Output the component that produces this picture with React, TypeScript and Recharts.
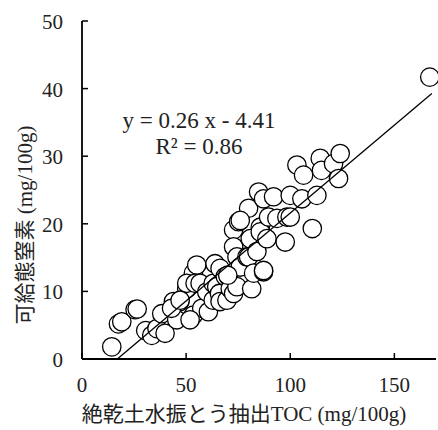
import { ScatterChart, Scatter, XAxis, YAxis } from 'recharts';

// TOC extracted by shaking air-dried soil in water (mg/100g)
const tocValues = [
  14.3, 17.5, 19.1, 25.5, 26.5, 30.6, 33.5, 36, 38.3, 39.9, 43.9, 45.5, 47, 43,
  50.3, 52, 53.5, 55.1, 50.3, 53.5, 54.3, 56.7, 57.5, 59.9, 60.7, 63, 63, 63.9,
  64.7, 66.3, 66, 66.3, 68.8, 69.6, 70.3, 71.2, 72.8, 74.4, 72.8, 75.2, 72.8,
  74.4, 76, 79.2, 80, 80, 80.8, 81.5, 82.4, 84, 84.8, 87.2, 85.6, 85.6, 88.8,
  87.2, 87.2, 89.6, 92, 93.6, 97.6, 98.4, 100, 100, 103.2, 106.4, 105.6, 112.8,
  110.6, 114.4, 115, 120.8, 124, 123.2, 167, 76, 70, 51.9, 47.1,
];
// available nitrogen (mg/100g)
const nitrogenValues = [
  1.8, 5.2, 5.5, 7.3, 7.4, 4.2, 3.5, 4.5, 6.7, 3.8, 8.5, 5.8, 8.5, 7.5,
  10.4, 11.4, 12.7, 13.9, 11.2, 6.5, 11.2, 11.2, 7.5, 9.9, 7.0, 8.7, 11.2, 14.1,
  10.7, 13.4, 9.7, 8.5, 12.2, 8.7, 12.2, 10.4, 9.7, 10.7, 19.1, 20.3, 16.6,
  15.1, 13.6, 15.1, 15.1, 22.3, 17.8, 10.4, 12.7, 15.9, 24.7, 23.7, 19.5, 18.8, 17.8,
  12.9, 13.1, 21.0, 24.0, 20.8, 17.3, 21.0, 21.0, 24.2, 28.7, 27.2, 23.7, 24.2,
  19.3, 29.7, 27.9, 28.9, 30.4, 26.7, 41.7, 20.5, 12.4, 5.8, 8.7,
];

const xTicks = [0, 50, 100, 150];
const yTicks = [0, 10, 20, 30, 40, 50];

const slope = 0.26;
const intercept = -4.41;
const rSquared = 0.86;
const fitEndX = 168;

const data = tocValues.map((x, i) => ({ x, y: nitrogenValues[i] }));
const fitLine = [
  { x: -intercept / slope, y: 0 },
  { x: fitEndX, y: slope * fitEndX + intercept },
];

const FONT = '"Liberation Serif", "Noto Sans CJK JP", serif';

const XTick = (props: any) => {
  const { x, y, payload } = props;
  return (
    <g>
      <line x1={x} y1={y} x2={x} y2={y - 6} stroke="#000" strokeWidth={1.5} />
      <text x={x} y={y + 33} textAnchor="middle" fontSize={21} fontFamily={FONT} fill="#222">
        {payload.value}
      </text>
    </g>
  );
};

const YTick = (props: any) => {
  const { x, y, payload } = props;
  return (
    <g>
      <line x1={x} y1={y} x2={x + 6} y2={y} stroke="#000" strokeWidth={1.5} />
      <text x={x - 19} y={y + 8} textAnchor="end" fontSize={21} fontFamily={FONT} fill="#222">
        {payload.value}
      </text>
    </g>
  );
};

export default function App() {
  return (
    <div style={{ position: 'absolute', left: 0, top: 0, width: 438, height: 430, background: '#fff' }}>
      <ScatterChart width={438} height={430} margin={{ top: 21, right: 2, left: 22, bottom: 21 }}>
        <XAxis
          type="number"
          dataKey="x"
          domain={[0, 170]}
          ticks={xTicks}
          height={50}
          tickSize={0}
          tickMargin={0}
          tickLine={false}
          tick={<XTick />}
          axisLine={{ stroke: '#000', strokeWidth: 1.8 }}
        />
        <YAxis
          type="number"
          dataKey="y"
          domain={[0, 50]}
          ticks={yTicks}
          width={60}
          tickSize={0}
          tickMargin={0}
          tickLine={false}
          tick={<YTick />}
          axisLine={{ stroke: '#000', strokeWidth: 1.8 }}
        />
        <Scatter
          data={data}
          isAnimationActive={false}
          shape={(p: any) => (
            <circle cx={p.cx} cy={p.cy} r={9.2} fill="#fff" stroke="#000" strokeWidth={1.3} />
          )}
        />
        <Scatter
          data={fitLine}
          isAnimationActive={false}
          line={{ stroke: '#000', strokeWidth: 1.3 }}
          shape={() => <g />}
        />
      </ScatterChart>
      <svg
        width={438}
        height={430}
        style={{ position: 'absolute', left: 0, top: 0, pointerEvents: 'none' }}
      >
        <text x={199} y={128} textAnchor="middle" fontSize={23} fontFamily={FONT} fill="#222">
          {`y = ${slope} x - ${Math.abs(intercept)}`}
        </text>
        <text x={199} y={154} textAnchor="middle" fontSize={23} fontFamily={FONT} fill="#222">
          {`R² = ${rSquared}`}
        </text>
        <text x={244} y={421} textAnchor="middle" fontSize={21} fontFamily={FONT} fill="#222">
          絶乾土水振とう抽出TOC (mg/100g)
        </text>
        <text
          transform="translate(32, 225) rotate(-90)"
          x={0}
          y={0}
          textAnchor="middle"
          fontSize={21}
          fontFamily={FONT}
          fill="#222"
        >
          可給態窒素 (mg/100g)
        </text>
      </svg>
    </div>
  );
}
